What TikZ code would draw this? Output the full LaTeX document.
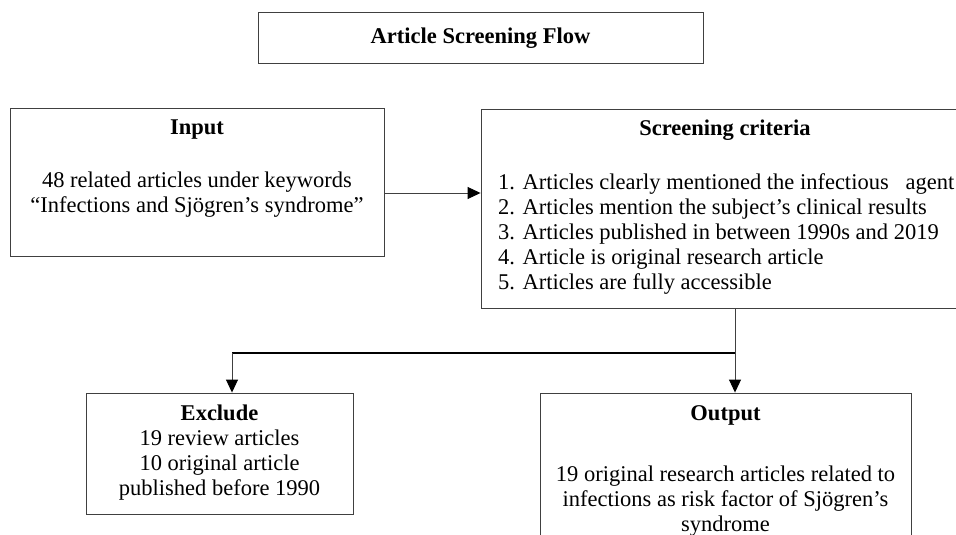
\documentclass[tikz,border=0pt]{standalone}
\usepackage{fontspec}
\setmainfont{Liberation Serif}
\usetikzlibrary{arrows.meta}
\tikzstyle{box}=[draw=black!75,rectangle,inner sep=0pt,line width=0.9pt]
\tikzstyle{txt}=[font=\fontsize{22.5}{25}\selectfont,inner sep=0pt,align=center]
\tikzstyle{head}=[font=\fontsize{22.5}{25}\selectfont\bfseries,inner sep=0pt]
\tikzstyle{line}=[draw,black!75,line width=0.9pt]
\tikzstyle{edge}=[draw,black!75,line width=0.9pt,-{Triangle[length=13pt,width=12pt,color=black]}]
\tikzstyle{bar}=[draw,black,line width=2pt]

\begin{document}
\begin{tikzpicture}[x=1pt,y=-1pt]
    \useasboundingbox (0,0) rectangle (956,535);
    % boxes
    \node[box,minimum width=445pt,minimum height=51pt] (flow) at (480.5,37.5) {};
    \node[box,minimum width=374pt,minimum height=148pt] (input) at (197,182) {};
    \node[box,minimum width=485pt,minimum height=199pt] (crit) at (723.5,208.5) {};
    \node[box,minimum width=267pt,minimum height=121pt] (excl) at (219.5,453.5) {};
    \node[box,minimum width=371pt,minimum height=160pt] (outp) at (725.5,473) {};
    % texts
    \node[head] (flowt) at (480.5,38) {Article Screening Flow};
    \node[head] (inputt) at (197,130) {Input};
    \node[txt] (inputx) at (197,195) {48 related articles under keywords\\``Infections and Sjögren's syndrome''};
    \node[head] (critt) at (725,130) {Screening criteria};
    \node[txt,align=left,anchor=west] (critx) at (498,234) {1. Articles clearly mentioned the infectious\ \ \ agent\\2. Articles mention the subject's clinical results\\3. Articles published in between 1990s and 2019\\4. Article is original research article\\5. Articles are fully accessible};
    \node[txt] (exclx) at (219.5,452.5) {\textbf{Exclude}\\19 review articles\\10 original article\\published before 1990};
    \node[head] (outpt) at (725.5,415) {Output};
    \node[txt] (outpx) at (725.5,501) {19 original research articles related to\\infections as risk factor of Sjögren's\\syndrome};
    % connectors
    \coordinate (inarr) at (384,193);
    \coordinate (split) at (735,353);
    \coordinate (turn) at (232,353);
    \path[edge] (inarr) -- (inarr -| crit.west);
    \path[line] (crit.south -| split) -- (split);
    \path[bar] (split) -- (turn);
    \path[edge] (turn) -- (turn |- excl.north);
    \path[edge] (split) -- (split |- outp.north);
\end{tikzpicture}
\end{document}
